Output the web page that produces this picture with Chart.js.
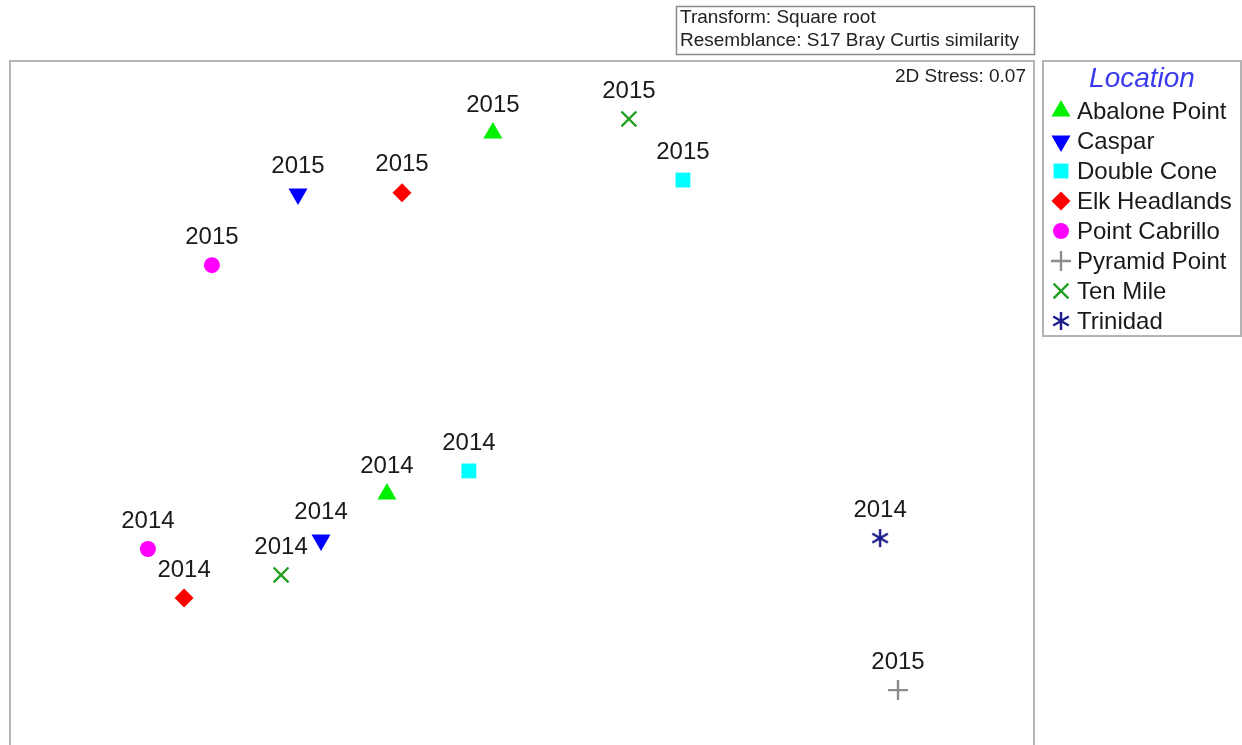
<!DOCTYPE html>
<html>
<head>
<meta charset="utf-8">
<script src="https://cdn.jsdelivr.net/npm/chart.js@4.4.1/dist/chart.umd.min.js"></script>
<style>
  html, body { margin: 0; padding: 0; background: #fff; overflow: hidden; }
</style>
</head>
<body>
<canvas id="mds" width="1242" height="745"></canvas>
<script>
// NMDS ordination coordinates
const locations = ['Abalone Point', 'Caspar', 'Double Cone', 'Elk Headlands', 'Point Cabrillo', 'Pyramid Point', 'Ten Mile', 'Trinidad'];
const years = [2014, 2015];
// [2014, 2015] per location, null where a year is missing
const mdsX = [
  [-0.422, -0.091],
  [-0.628, -0.700],
  [-0.166, 0.503],
  [-1.056, -0.375],
  [-1.169, -0.969],
  [null, 1.175],
  [-0.753, 0.334],
  [1.119, null]
];
const mdsY = [
  [-0.153, 0.975],
  [-0.297, 0.784],
  [-0.081, 0.828],
  [-0.478, 0.788],
  [-0.325, 0.562],
  [null, -0.766],
  [-0.406, 1.019],
  [-0.291, null]
];
const stress = '0.07';

const colors = ['#00f000', '#0000ff', '#00ffff', '#ff0000', '#ff00ff', '#8c8c8c', '#22a022', '#1c1c8c'];

// six-armed asterisk for Trinidad
function asterisk(color) {
  const c = document.createElement('canvas');
  c.width = 22; c.height = 22;
  const g = c.getContext('2d');
  g.strokeStyle = color;
  g.lineWidth = 2.4;
  g.beginPath();
  for (let k = 0; k < 3; k++) {
    const a = Math.PI / 2 + k * Math.PI / 3;
    g.moveTo(11 + Math.cos(a) * 9, 11 - Math.sin(a) * 9);
    g.lineTo(11 - Math.cos(a) * 9, 11 + Math.sin(a) * 9);
  }
  g.stroke();
  return c;
}

const styles = [
  { pointStyle: 'triangle', radius: 11, rotation: 0 },
  { pointStyle: 'triangle', radius: 11, rotation: 180 },
  { pointStyle: 'rect', radius: 10.5, rotation: 0 },
  { pointStyle: 'rectRot', radius: 9.5, rotation: 0 },
  { pointStyle: 'circle', radius: 8, rotation: 0 },
  { pointStyle: 'cross', radius: 10, rotation: 0 },
  { pointStyle: 'crossRot', radius: 10.5, rotation: 0 },
  { pointStyle: asterisk('#1c1c8c'), radius: 10, rotation: 0 }
];

const datasets = locations.map((name, i) => {
  const pts = [];
  years.forEach((yr, j) => {
    if (mdsX[i][j] !== null) pts.push({ x: mdsX[i][j], y: mdsY[i][j], year: yr });
  });
  const filled = !['cross', 'crossRot'].includes(styles[i].pointStyle);
  return {
    label: name,
    data: pts,
    pointStyle: styles[i].pointStyle,
    pointRadius: styles[i].radius,
    pointRotation: styles[i].rotation,
    pointBackgroundColor: colors[i],
    pointBorderColor: colors[i],
    pointBorderWidth: filled ? 0 : 2.4,
    pointHoverRadius: styles[i].radius
  };
});

const FONT = '"Liberation Sans", Arial, sans-serif';

const decor = {
  id: 'decor',
  beforeDraw(chart) {
    const ctx = chart.ctx;
    const a = chart.chartArea;
    ctx.save();
    ctx.fillStyle = '#fff';
    ctx.fillRect(0, 0, chart.width, chart.height);
    ctx.strokeStyle = '#b4b4b4';
    ctx.lineWidth = 2;
    ctx.strokeRect(a.left, a.top, a.right - a.left, a.bottom - a.top + 10);
    // legend box
    ctx.strokeRect(1043, 61, 198, 275);
    // transform box
    ctx.strokeStyle = '#8a8a8a';
    ctx.lineWidth = 1.5;
    ctx.strokeRect(676.5, 6.5, 358, 48);
    ctx.fillStyle = '#222';
    ctx.font = '19px ' + FONT;
    ctx.textBaseline = 'middle';
    ctx.textAlign = 'left';
    ctx.fillText('Transform: Square root', 680, 18);
    ctx.fillText('Resemblance: S17 Bray Curtis similarity', 680, 41);
    ctx.textAlign = 'right';
    ctx.fillText('2D Stress: ' + stress, 1026, 77);
    ctx.restore();
  },
  afterDatasetsDraw(chart) {
    const ctx = chart.ctx;
    ctx.save();
    ctx.fillStyle = '#1a1a1a';
    ctx.font = '24px ' + FONT;
    ctx.textAlign = 'center';
    ctx.textBaseline = 'middle';
    chart.data.datasets.forEach((ds, i) => {
      chart.getDatasetMeta(i).data.forEach((el, k) => {
        ctx.fillText(String(ds.data[k].year), el.x, el.y - 28);
      });
    });
    // legend
    ctx.fillStyle = '#3a3af0';
    ctx.font = 'italic 28px ' + FONT;
    ctx.fillText('Location', 1142, 79);
    chart.data.datasets.forEach((ds, i) => {
      const y = 111 + i * 30;
      ctx.fillStyle = colors[i];
      ctx.strokeStyle = colors[i];
      ctx.lineWidth = ds.pointBorderWidth || 0.01;
      Chart.helpers.drawPoint(ctx, {
        pointStyle: ds.pointStyle,
        radius: ds.pointRadius,
        rotation: ds.pointRotation,
        borderWidth: ds.pointBorderWidth
      }, 1061, y);
      ctx.fillStyle = '#1a1a1a';
      ctx.font = '24px ' + FONT;
      ctx.textAlign = 'left';
      ctx.fillText(ds.label, 1077, y + 1);
    });
    ctx.restore();
  }
};

new Chart(document.getElementById('mds'), {
  type: 'scatter',
  data: { datasets: datasets },
  options: {
    responsive: false,
    animation: false,
    layout: { autoPadding: false, padding: { left: 10, top: 61, right: 208, bottom: 0 } },
    scales: {
      x: { type: 'linear', display: false, min: -1.6, max: 1.6 },
      y: { type: 'linear', display: false, min: -0.9375, max: 1.2 }
    },
    plugins: {
      legend: { display: false },
      tooltip: { enabled: false }
    }
  },
  plugins: [decor]
});
</script>
</body>
</html>
